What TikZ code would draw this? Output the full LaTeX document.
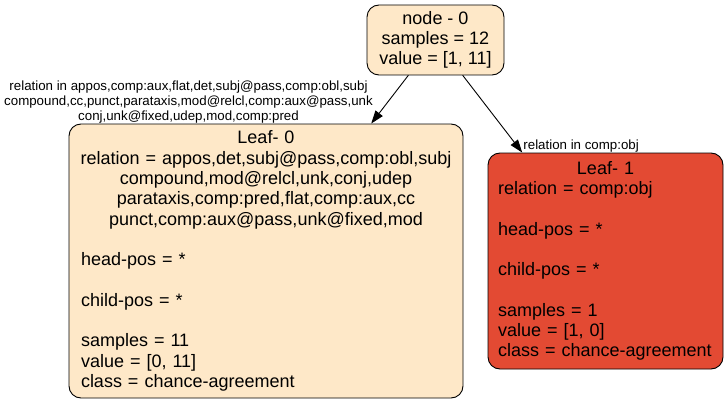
\documentclass[tikz,border=0pt]{standalone}
\usepackage{fontspec}
\setmainfont{Liberation Sans}
\usetikzlibrary{arrows.meta}
\definecolor{peach}{HTML}{FEE8C8}
\definecolor{leafred}{HTML}{E34A33}

\begin{document}
\begin{tikzpicture}[x=1pt, y=-1pt, >={Triangle[length=13pt, width=9pt]},
	line cap=round, line join=round, line width=0.9pt,
	box/.style={draw, rounded corners=12pt, inner ysep=0pt,
		font=\fontsize{18}{20.3}\selectfont},
	edgelabel/.style={inner sep=0pt, align=center,
		font=\fontsize{13.3}{15.3}\selectfont}]

\useasboundingbox (0,0) rectangle (728,404);

%========================
% Root
%========================
\node[box, fill=peach, align=center, minimum width=137pt, minimum height=70pt]
	(node0) at (435.5,40) {node - 0\\samples = 12\\value = [1, 11]};

%========================
% Leaves
%========================
\node[box, fill=peach, align=left, text width=370pt, inner xsep=12pt,
	minimum height=274pt] (leaf0) at (266,261)
	{\makebox[\hsize]{Leaf- 0}\\
	\makebox[\hsize]{relation = appos,det,subj@pass,comp:obl,subj}\\
	\makebox[\hsize]{compound,mod@relcl,unk,conj,udep}\\
	\makebox[\hsize]{parataxis,comp:pred,flat,comp:aux,cc}\\
	\makebox[\hsize]{punct,comp:aux@pass,unk@fixed,mod}\\ \mbox{}\\
	head-pos = *\\ \mbox{}\\
	child-pos = *\\ \mbox{}\\
	samples = 11\\
	value = [0, 11]\\
	class = chance-agreement};

\node[box, fill=leafred, align=left, text width=215pt, inner xsep=10pt,
	minimum height=216pt] (leaf1) at (605.5,261)
	{\makebox[\hsize]{Leaf- 1}\\
	relation = comp:obj\\ \mbox{}\\
	head-pos = *\\ \mbox{}\\
	child-pos = *\\ \mbox{}\\
	samples = 1\\
	value = [1, 0]\\
	class = chance-agreement};

%========================
% Edges
%========================
\draw[->] (node0) -- (leaf0);
\draw[->] (node0) -- (leaf1);

% edge labels
\node[edgelabel] (cond0) at (188.5,102)
	{relation in appos,comp:aux,flat,det,subj@pass,comp:obl,subj\\
	compound,cc,punct,parataxis,mod@relcl,comp:aux@pass,unk\\
	conj,unk@fixed,udep,mod,comp:pred};
\node[edgelabel, anchor=base west] (cond1) at (523,149.5) {relation in comp:obj};

\end{tikzpicture}
\end{document}
